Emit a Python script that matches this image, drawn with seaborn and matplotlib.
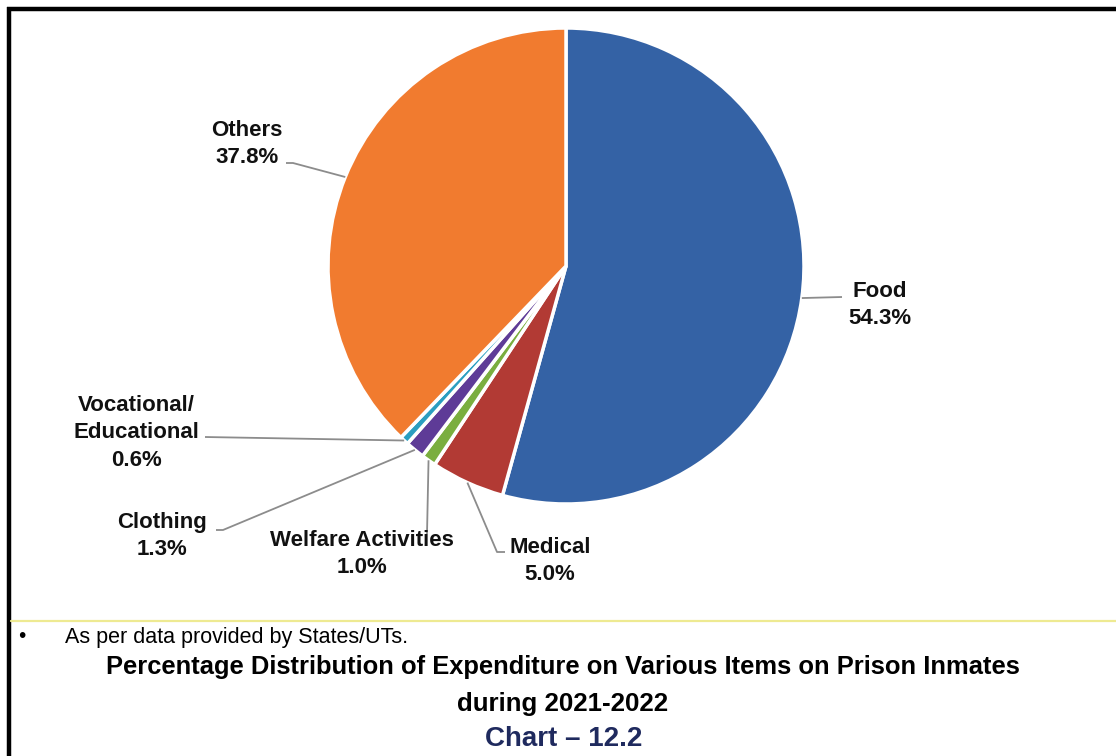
import numpy as np
import pandas as pd
import matplotlib
matplotlib.use("Agg")
import matplotlib.pyplot as plt
from matplotlib import font_manager
from matplotlib.lines import Line2D
import seaborn as sns

categories = ["Food", "Medical", "Welfare Activities", "Clothing", "Vocational/\nEducational", "Others"]
values = [54.3, 5.0, 1.0, 1.3, 0.6, 37.8]
colors = ["#3462A5", "#B23A34", "#7AAE3F", "#5E3B97", "#2B9EC0", "#F17B2F"]

title_line1 = "Percentage Distribution of Expenditure on Various Items on Prison Inmates"
title_line2 = "during 2021-2022"
chart_no = "Chart \u2013 12.2"
note = "As per data provided by States/UTs."

sns.set_theme(style="white")
names = {f.name for f in font_manager.fontManager.ttflist}
narrow = "Liberation Sans Narrow" if "Liberation Sans Narrow" in names else "Liberation Sans"
plt.rcParams["font.family"] = ["Liberation Sans", "DejaVu Sans"]

df = pd.DataFrame({"category": categories, "value": values, "color": colors})

W, H = 1116, 756
fig = plt.figure(figsize=(W / 100, H / 100), dpi=100)
ax = fig.add_axes([0, 0, 1, 1])
cx, cy, R = 566, 266, 238

wedges, _ = ax.pie(df["value"], colors=df["color"], startangle=90, counterclock=False,
                   radius=1.0, center=(0, 0), frame=True,
                   wedgeprops=dict(edgecolor="white", linewidth=2.5))
ax.set_xlim(-cx / R, (W - cx) / R)
ax.set_ylim(-(H - cy) / R, cy / R)
ax.set_aspect("auto")
ax.axis("off")

def p(px, py):
    return ((px - cx) / R, (cy - py) / R)

# label layout: text centre (pixels), leader line path near text (pixels)
layout = {
    "Food": dict(text=(880, 305), path=[(842, 297)]),
    "Medical": dict(text=(550, 561), path=[(505, 552), (497, 552)]),
    "Welfare Activities": dict(text=(362, 554), path=[(427, 534)]),
    "Clothing": dict(text=(162, 536), path=[(216, 530), (223, 530)]),
    "Vocational/\nEducational": dict(text=(136, 433), path=[(205, 437)]),
    "Others": dict(text=(247, 144), path=[(286, 163), (293, 163)]),
}

for w, (_, row) in zip(wedges, df.iterrows()):
    mid = np.deg2rad((w.theta1 + w.theta2) / 2)
    anchor = (np.cos(mid) * 1.0, np.sin(mid) * 1.0)
    lay = layout[row["category"]]
    pts = [p(*q) for q in lay["path"]] + [anchor]
    xs, ys = zip(*pts)
    ax.plot(xs, ys, color="#8C8C8C", lw=1.3, solid_capstyle="butt", zorder=1)
    tx, ty = p(*lay["text"])
    ax.text(tx, ty, f"{row['category']}\n{row['value']:.1f}%", ha="center", va="center",
            fontsize=16, fontweight="bold", color="#111111", linespacing=1.38)

# frame lines
fig.add_artist(Line2D([7 / W, 1], [1 - 9 / H, 1 - 9 / H], color="black", lw=3.2,
                      solid_capstyle="butt", transform=fig.transFigure))
fig.add_artist(Line2D([9 / W, 9 / W], [0, 1 - 7 / H], color="black", lw=3.2,
                      solid_capstyle="butt", transform=fig.transFigure))
fig.add_artist(Line2D([11 / W, 1], [1 - 621 / H, 1 - 621 / H], color="#EEEA92", lw=1.6,
                      transform=fig.transFigure))

fig.text(22 / W, 1 - 637 / H, "\u2022", ha="center", va="center", fontsize=15, color="black")
fig.text(65 / W, 1 - 637 / H, note, ha="left", va="center", fontsize=15.5, family=narrow, color="black")
fig.text(563 / W, 1 - 667 / H, title_line1, ha="center", va="center", fontsize=18.4,
         family=narrow, fontweight="bold", color="black")
fig.text(563 / W, 1 - 704 / H, title_line2, ha="center", va="center", fontsize=18.6,
         family=narrow, fontweight="bold", color="black")
fig.text(564 / W, 1 - 739 / H, chart_no, ha="center", va="center", fontsize=20,
         fontweight="bold", color="#1F2A5E")

fig.savefig("out.png", dpi=100)
